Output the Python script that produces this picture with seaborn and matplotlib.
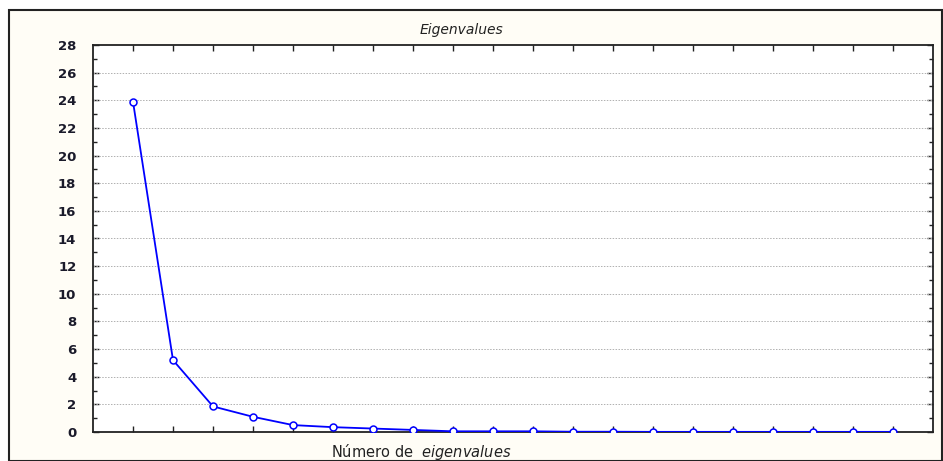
import matplotlib
matplotlib.use("Agg")
import matplotlib.pyplot as plt
import seaborn as sns
import pandas as pd
from matplotlib.patches import Rectangle

eigen_num = list(range(1, 21))
eigenvalues = [23.9, 5.2, 1.85, 1.1, 0.5, 0.35, 0.25, 0.15, 0.05, 0.05,
               0.05, 0.02, 0.02, 0.01, 0.01, 0.01, 0.01, 0.01, 0.01, 0.01]
y_ticks = list(range(0, 29, 2))

df = pd.DataFrame({"n": eigen_num, "v": eigenvalues})

sns.set_style("white")
plt.rcParams['font.family'] = ['DejaVu Sans']
plt.rcParams['mathtext.fontset'] = 'dejavusans'

fig = plt.figure(figsize=(9.43, 4.61), dpi=100)
fig.patch.set_facecolor("white")
fig.add_artist(Rectangle((9/943, 0.0), 933/943, 1 - 10/461,
                         transform=fig.transFigure, facecolor="#fffdf6",
                         edgecolor="#222222", linewidth=1.5, zorder=0))

ax = fig.add_axes([93/943, 1 - 432/461, (933 - 93)/943, (432 - 45)/461])
ax.set_facecolor("white")

sns.lineplot(data=df, x="n", y="v", ax=ax, color="#0000ff", linewidth=1.3,
             marker="o", markersize=5, markerfacecolor="white",
             markeredgecolor="#0000ff", markeredgewidth=1.1, zorder=5)

ax.set_xlim(0, 21)
ax.set_ylim(0, 28)
ax.set_yticks(y_ticks)
ax.set_yticks(range(1, 28, 2), minor=True)
ax.set_xticks(range(1, 21))
ax.set_xticklabels([])
ax.tick_params(axis="both", which="both", direction="in", top=True, right=True,
               bottom=True, left=True, color="#222222")
ax.tick_params(axis="both", which="major", length=4, width=1)
ax.tick_params(axis="y", which="minor", length=3, width=1)
ax.tick_params(axis="y", labelsize=9.5, pad=12, labelcolor="#1a1a2a")
for lab in ax.get_yticklabels():
    lab.set_fontweight("bold")

for y in y_ticks[1:-1]:
    ax.axhline(y, color="#b0b0b0", linestyle=(0, (1.5, 1.5)), linewidth=0.7, zorder=1)

for s in ax.spines.values():
    s.set_color("#222222")
    s.set_linewidth(1.3)

ax.set_xlabel("")
ax.set_ylabel("")

fig.text(462/943, 1 - 30/461, "Eigenvalues", ha="center", va="center",
         fontsize=10, style="italic", color="#222222")
fig.text(421/943, 1 - 452/461, "Número de  $\\it{eigenvalues}$", ha="center",
         va="center", fontsize=10.5, color="#222222")

fig.savefig("out.png", dpi=100)
